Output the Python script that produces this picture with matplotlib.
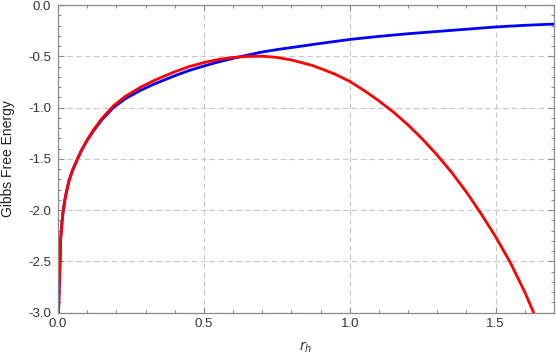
import matplotlib
matplotlib.use("Agg")
import matplotlib.pyplot as plt
from matplotlib.ticker import MultipleLocator, FormatStrFormatter

plt.rcParams['font.family'] = ['Liberation Sans', 'DejaVu Sans']

# Values
r_blue = [0.0015, 0.002, 0.004, 0.007, 0.009, 0.013, 0.018, 0.026, 0.038, 0.05, 0.067,
          0.08, 0.1, 0.121, 0.15, 0.19, 0.23, 0.281, 0.33, 0.4, 0.45, 0.5, 0.55, 0.6,
          0.65, 0.7, 0.75, 0.8, 0.873, 0.95, 1.0, 1.1, 1.2, 1.3, 1.4, 1.5, 1.6, 1.7]
g_blue = [-3.12, -3.0, -2.75, -2.5, -2.29, -2.14, -2.0, -1.86, -1.71, -1.61, -1.5,
          -1.42, -1.32, -1.23, -1.12, -1.0, -0.915, -0.835, -0.77, -0.69, -0.638, -0.595, -0.555, -0.52,
          -0.488, -0.458, -0.435, -0.415, -0.385, -0.355, -0.336, -0.306, -0.28, -0.258, -0.236, -0.214,
          -0.198, -0.186]

r_red = [0.0015, 0.002, 0.004, 0.007, 0.009, 0.013, 0.018, 0.026, 0.038, 0.05, 0.067,
         0.08, 0.1, 0.121, 0.15, 0.19, 0.23, 0.281, 0.33, 0.4, 0.45, 0.5, 0.55, 0.6,
         0.65, 0.7, 0.75, 0.8, 0.873, 0.95, 1.0, 1.05, 1.1, 1.15, 1.2, 1.25, 1.3,
         1.35, 1.4, 1.45, 1.5, 1.55, 1.6, 1.65]
g_red = [-3.12, -3.0, -2.75, -2.5, -2.29, -2.14, -2.0, -1.86, -1.71, -1.61, -1.5,
         -1.42, -1.315, -1.22, -1.108, -0.983, -0.892, -0.805, -0.735, -0.651, -0.60, -0.561, -0.531, -0.511,
         -0.501, -0.499, -0.511, -0.536, -0.59, -0.675, -0.745, -0.835, -0.935, -1.045, -1.17, -1.31, -1.465,
         -1.635, -1.825, -2.035, -2.26, -2.51, -2.8, -3.13]

x_label = "$r_h$"
y_label = "Gibbs Free Energy"

fig = plt.figure(figsize=(5.56, 3.60), dpi=100)
ax = fig.add_axes([0.1043, 0.1314, 0.8921, 0.8547])

ax.plot(r_blue, g_blue, color='#0000FF', lw=2.0, solid_capstyle='butt', solid_joinstyle='round')
ax.plot(r_red, g_red, color='#FF0000', lw=2.0, solid_capstyle='butt', solid_joinstyle='round')

ax.set_xlim(0, 1.7)
ax.set_ylim(-3.0, 0.0)

ax.xaxis.set_major_locator(MultipleLocator(0.5))
ax.xaxis.set_minor_locator(MultipleLocator(0.1))
ax.yaxis.set_major_locator(MultipleLocator(0.5))
ax.yaxis.set_minor_locator(MultipleLocator(0.1))
ax.xaxis.set_major_formatter(FormatStrFormatter('%.1f'))
ax.yaxis.set_major_formatter(FormatStrFormatter('%.1f'))

ax.tick_params(which='both', direction='in', top=True, right=True, color='#8a8a8a',
               labelsize=9.5, labelcolor='#333333', width=0.8)
ax.tick_params(which='major', length=4.5)
ax.tick_params(which='minor', length=2.5)
ax.tick_params(axis='x', pad=4)
ax.tick_params(axis='y', pad=5)
for s in ax.spines.values():
    s.set_color('#8a8a8a')
    s.set_linewidth(0.9)

ax.grid(True, which='major', color='#c8c8c8', linestyle=(0, (5, 3)), linewidth=0.8)
ax.set_axisbelow(True)

ax.set_xlabel(x_label, fontsize=10, color='#333333')
ax.xaxis.set_label_coords(0.5, -0.088)
ax.set_ylabel(y_label, fontsize=10, color='#222222')
ax.yaxis.set_label_coords(-0.086, 0.5)

fig.savefig("out.png", dpi=100)
